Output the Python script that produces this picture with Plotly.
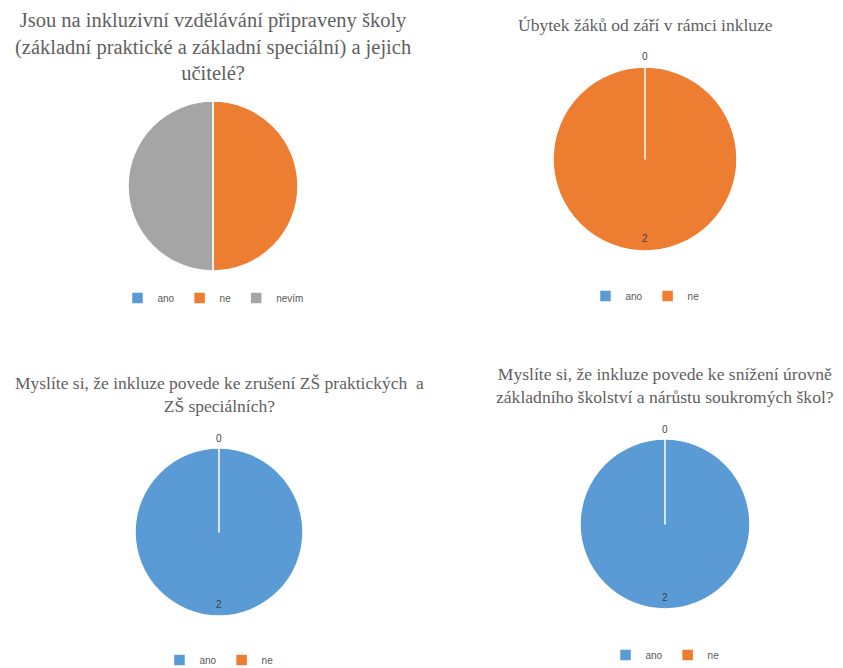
import math
import plotly.graph_objects as go

W, H = 843, 668

# ---- data ----
title1 = "Jsou na inkluzivní vzdělávání připraveny školy<br>(základní praktické a základní speciální) a jejich<br>učitelé?"
labels1 = ["ano", "ne", "nevím"]
values1 = [0, 1, 1]

title2 = "Úbytek žáků od září v rámci inkluze"
labels2 = ["ne", "ano"]          # drawn in this order, legend shown reversed (ano, ne)
values2 = [2, 0]

title3 = "Myslíte si, že inkluze povede ke zrušení ZŠ praktických  a<br>ZŠ speciálních?"
labels3 = ["ano", "ne"]
values3 = [2, 0]

title4 = "Myslíte si, že inkluze povede ke snížení úrovně<br>základního školství a nárůstu soukromých škol?"
labels4 = ["ano", "ne"]
values4 = [2, 0]

colors = {"ano": "#5B9BD5", "ne": "#ED7D31", "nevím": "#A5A5A5"}

# ---- layout (pixels) ----
# (title, labels, values, cx, cy, r, title_y, title_size, legend_y, show_values, legend_order)
charts = [
    (title1, labels1, values1, 213, 186, 85, 46, 20.5, 298, False, "normal"),
    (title2, labels2, values2, 645, 159, 92, 25, 17.5, 296, True, "reversed"),
    (title3, labels3, values3, 219, 532, 84, 394.5, 17.5, 660, True, "normal"),
    (title4, labels4, values4, 665, 524, 85, 385, 17.6, 655, True, "normal"),
]

fig = go.Figure()
annotations = []
legends = {}
for i, (title, labs, vals, cx, cy, r, ty, tsize, ly, showv, lorder) in enumerate(charts):
    lname = "legend" if i == 0 else f"legend{i+1}"
    fig.add_trace(go.Pie(
        labels=labs, values=vals, sort=False, direction="clockwise", rotation=0,
        marker=dict(colors=[colors[l] for l in labs], line=dict(color="white", width=1.5)),
        textinfo="none", hoverinfo="label+value",
        domain=dict(x=[(cx - r) / W, (cx + r) / W], y=[1 - (cy + r) / H, 1 - (cy - r) / H]),
        legend=lname, legendgroup=f"g{i+1}", showlegend=True,
    ))
    annotations.append(dict(
        text=title, x=cx / W, y=1 - ty / H, xref="paper", yref="paper",
        xanchor="center", yanchor="middle", showarrow=False,
        font=dict(family="Liberation Serif, Times New Roman, serif", size=tsize, color="#5f5f5f"),
    ))
    legends[lname] = dict(
        orientation="h", x=cx / W, y=1 - ly / H, xanchor="center", yanchor="middle",
        font=dict(family="Liberation Sans", size=10, color="#595959"),
        itemwidth=30, bgcolor="rgba(0,0,0,0)", traceorder=lorder,
    )
    if showv:
        total = sum(vals)
        cum = 0
        for v in vals:
            mid = (cum + v / 2) / total * 2 * math.pi
            cum += v
            rr = (r + 10) if v == 0 else 0.86 * r
            x = cx + rr * math.sin(mid)
            y = cy - rr * math.cos(mid)
            annotations.append(dict(
                text=str(v), x=x / W, y=1 - y / H, xref="paper", yref="paper",
                xanchor="center", yanchor="middle", showarrow=False,
                font=dict(family="Liberation Sans", size=10, color="#404040"),
            ))

fig.update_layout(
    width=W, height=H, margin=dict(l=0, r=0, t=0, b=0, autoexpand=False),
    paper_bgcolor="white", plot_bgcolor="white",
    annotations=annotations, **legends,
)

fig.write_html("out.html", config={"displayModeBar": False},
               post_script="document.body.style.margin='0';")
